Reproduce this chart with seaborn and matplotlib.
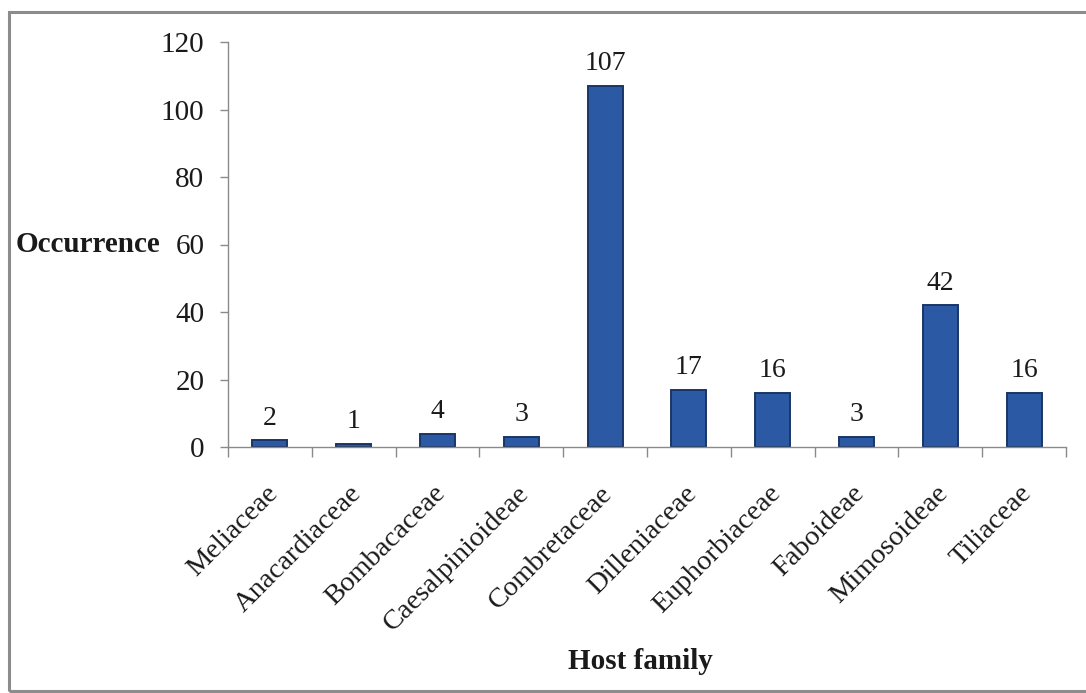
import matplotlib
matplotlib.use("Agg")
import matplotlib.pyplot as plt
from matplotlib.patches import Rectangle
import seaborn as sns

# Host families and number of occurrences recorded on each
families = ["Meliaceae", "Anacardiaceae", "Bombacaceae", "Caesalpinioideae",
            "Combretaceae", "Dilleniaceae", "Euphorbiaceae", "Faboideae",
            "Mimosoideae", "Tiliaceae"]
occurrence = [2, 1, 4, 3, 107, 17, 16, 3, 42, 16]
y_ticks = [0, 20, 40, 60, 80, 100, 120]

sns.set_theme(style="white")
plt.rcParams["font.family"] = ["Liberation Serif", "DejaVu Serif"]

fig = plt.figure(figsize=(10.86, 6.93), dpi=100)
fig.patch.set_facecolor("white")
ax = fig.add_axes([228 / 1086, 1 - 447 / 693, 838 / 1086, 405 / 693])

sns.barplot(x=families, y=occurrence, color="#2C59A3", saturation=1,
            width=0.42, edgecolor="#1A3566", linewidth=1.4, ax=ax)

ax.set_xlim(-0.5, len(families) - 0.5)
ax.set_ylim(0, 120)
ax.set_yticks(y_ticks)

# Value labels above each bar
for cont in ax.containers:
    ax.bar_label(cont, labels=[str(v) for v in occurrence], padding=7,
                 fontsize=20, color="#1a1a1a")

# Category names, slanted, hanging below each bar centre
ax.set_xticks(range(len(families)))
ax.set_xticklabels([])
ax.tick_params(axis="x", which="major", length=0)
for i, name in enumerate(families):
    ax.annotate(name, xy=(i, 0), xycoords=("data", "axes fraction"),
                xytext=(-5, -34), textcoords="offset pixels",
                rotation=45, ha="right", va="top", rotation_mode="anchor",
                fontsize=20.5, color="#1a1a1a", annotation_clip=False)

# Tick marks at the category boundaries
ax.set_xticks([i - 0.5 for i in range(len(families) + 1)], minor=True)
ax.tick_params(axis="x", which="minor", length=7, width=1, color="#8a8a8a",
               direction="out", bottom=True)
ax.tick_params(axis="y", which="major", length=6, width=1, color="#8a8a8a",
               direction="out", left=True, labelsize=21, labelcolor="#1a1a1a",
               pad=11)

for side in ["top", "right"]:
    ax.spines[side].set_visible(False)
for side in ["left", "bottom"]:
    ax.spines[side].set_color("#8a8a8a")
    ax.spines[side].set_linewidth(1)
ax.grid(False)

ax.set_ylabel("Occurrence", rotation=0, fontsize=21, fontweight="bold",
              color="#1a1a1a", ha="right", va="center")
ax.yaxis.set_label_coords(-0.081, 0.5)
ax.set_xlabel("Host family", fontsize=21, fontweight="bold", color="#1a1a1a",
              va="center")
ax.xaxis.set_label_coords(0.4917, -0.53)

# Frame around the whole chart
fig.patches.append(Rectangle((9 / 1086, 1 - 691 / 693), 1.05, 679 / 693,
                             transform=fig.transFigure, fill=False,
                             edgecolor="#8c8c8c", linewidth=2.2,
                             clip_on=False))

fig.savefig("out.png", dpi=100, facecolor="white")
